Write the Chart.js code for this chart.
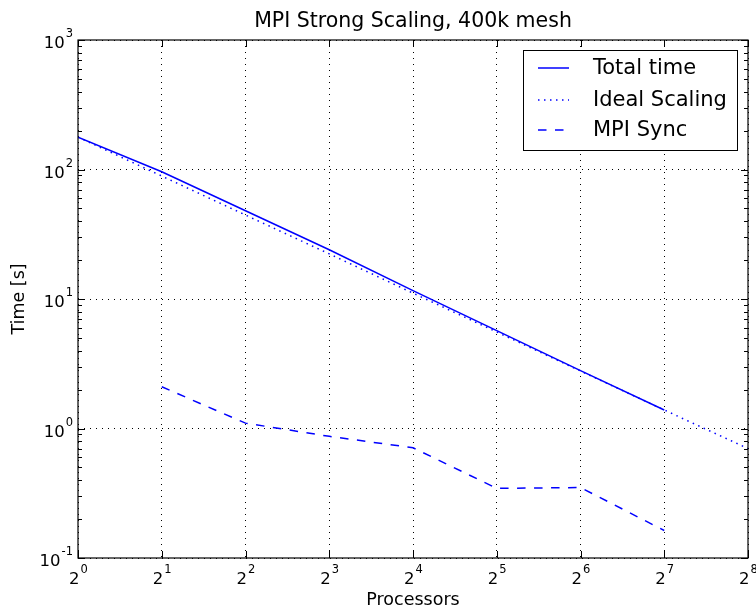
<!DOCTYPE html>
<html>
<head>
<meta charset="utf-8">
<script src="https://cdn.jsdelivr.net/npm/chart.js@4/dist/chart.umd.min.js"></script>
<style>
  html, body { margin: 0; padding: 0; background: #fff; }
  #wrap { width: 756px; height: 607px; }
</style>
</head>
<body>
<div id="wrap"><canvas id="grafico" width="756" height="607"></canvas></div>
<script>
// datos
const procesadores = [1, 2, 4, 8, 16, 32, 64, 128];
const tiempoTotal = [178, 96, 48, 24, 11.6, 5.7, 2.8, 1.39];
const procesadoresIdeal = [1, 2, 4, 8, 16, 32, 64, 128, 256];
const escalaIdeal = [178, 89, 44.5, 22.3, 11.1, 5.56, 2.78, 1.39, 0.70];
const procesadoresMpi = [2, 4, 8, 16, 32, 64, 128];
const mpiSync = [2.1, 1.1, 0.87, 0.71, 0.345, 0.35, 0.163];

const ticksX = [1, 2, 4, 8, 16, 32, 64, 128, 256];
const exponentesX = ["0", "1", "2", "3", "4", "5", "6", "7", "8"];
const ticksY = [0.1, 1, 10, 100, 1000];
const exponentesY = ["-1", "0", "1", "2", "3"];

const etiquetasLeyenda = ["Total time", "Ideal Scaling", "MPI Sync"];
const FUENTE = "'DejaVu Sans', sans-serif";
const AZUL = "#0000ff";

function armarPuntos(xs, ys) {
    return xs.map((x, i) => ({ x: x, y: ys[i] }));
}

// minor ticks del eje y (2..9 por decada)
function ticksMenoresY() {
    const menores = [];
    for (let d = 0; d < ticksY.length - 1; d++) {
        for (let k = 2; k <= 9; k++) menores.push(ticksY[d] * k);
    }
    return menores;
}

function textoPotencia(ctx, base, exp, x, y, alinear) {
    ctx.font = "16.5px " + FUENTE;
    let anchoBase = ctx.measureText(base).width;
    ctx.font = "11.5px " + FUENTE;
    let anchoExp = ctx.measureText(exp).width;
    let inicio = x;
    if (alinear === "center") inicio = x - (anchoBase + anchoExp) / 2;
    if (alinear === "right") inicio = x - (anchoBase + anchoExp + 1);
    ctx.textAlign = "left";
    ctx.textBaseline = "alphabetic";
    ctx.font = "16.5px " + FUENTE;
    ctx.fillText(base, inicio, y);
    ctx.font = "11.5px " + FUENTE;
    ctx.fillText(exp, inicio + anchoBase + 1, y - 11);
}

const pluginEjes = {
    id: "pluginEjes",
    afterDraw(chart) {
        const ctx = chart.ctx;
        const area = chart.chartArea;
        const sx = chart.scales.x;
        const sy = chart.scales.y;
        ctx.save();
        ctx.fillStyle = "#000";
        ctx.strokeStyle = "#000";

        // marco
        ctx.lineWidth = 1.2;
        ctx.setLineDash([]);
        ctx.strokeRect(area.left, area.top, area.right - area.left, area.bottom - area.top);

        // ticks mayores x (hacia adentro, abajo y arriba)
        ctx.lineWidth = 1;
        ticksX.forEach(v => {
            let px = Math.round(sx.getPixelForValue(v)) + 0.5;
            ctx.beginPath();
            ctx.moveTo(px, area.bottom); ctx.lineTo(px, area.bottom - 7);
            ctx.moveTo(px, area.top); ctx.lineTo(px, area.top + 7);
            ctx.stroke();
        });
        // ticks mayores y
        ticksY.forEach(v => {
            let py = Math.round(sy.getPixelForValue(v)) + 0.5;
            ctx.beginPath();
            ctx.moveTo(area.left, py); ctx.lineTo(area.left + 7, py);
            ctx.moveTo(area.right, py); ctx.lineTo(area.right - 7, py);
            ctx.stroke();
        });
        // ticks menores y
        ticksMenoresY().forEach(v => {
            let py = Math.round(sy.getPixelForValue(v)) + 0.5;
            ctx.beginPath();
            ctx.moveTo(area.left, py); ctx.lineTo(area.left + 4, py);
            ctx.moveTo(area.right, py); ctx.lineTo(area.right - 4, py);
            ctx.stroke();
        });

        // etiquetas
        ticksX.forEach((v, i) => {
            textoPotencia(ctx, "2", exponentesX[i], sx.getPixelForValue(v), area.bottom + 26, "center");
        });
        ticksY.forEach((v, i) => {
            textoPotencia(ctx, "10", exponentesY[i], area.left - 5, sy.getPixelForValue(v) + 8, "right");
        });

        // titulos
        ctx.font = "20.5px " + FUENTE;
        ctx.textAlign = "center";
        ctx.textBaseline = "alphabetic";
        ctx.fillText("MPI Strong Scaling, 400k mesh", (area.left + area.right) / 2, 27);
        ctx.font = "17.5px " + FUENTE;
        ctx.fillText("Processors", (area.left + area.right) / 2, 605);
        ctx.save();
        ctx.translate(24, (area.top + area.bottom) / 2);
        ctx.rotate(-Math.PI / 2);
        ctx.fillText("Time [s]", 0, 0);
        ctx.restore();

        // leyenda
        const caja = { x: 523, y: 50, w: 214, h: 100 };
        ctx.fillStyle = "#fff";
        ctx.fillRect(caja.x, caja.y, caja.w, caja.h);
        ctx.lineWidth = 1;
        ctx.strokeStyle = "#000";
        ctx.strokeRect(caja.x + 0.5, caja.y + 0.5, caja.w, caja.h);
        const filas = [68, 100, 130];
        chart.data.datasets.forEach((ds, i) => {
            ctx.strokeStyle = ds.borderColor;
            ctx.lineWidth = ds.borderWidth;
            ctx.setLineDash(ds.borderDash || []);
            ctx.beginPath();
            ctx.moveTo(538, filas[i]);
            ctx.lineTo(569, filas[i]);
            ctx.stroke();
            ctx.setLineDash([]);
            ctx.fillStyle = "#000";
            ctx.font = "21px " + FUENTE;
            ctx.textAlign = "left";
            ctx.textBaseline = "middle";
            ctx.fillText(etiquetasLeyenda[i], 593, filas[i] + 1);
        });
        ctx.restore();
    }
};

const config = {
    type: "line",
    data: {
        datasets: [
            {
                label: etiquetasLeyenda[0],
                data: armarPuntos(procesadores, tiempoTotal),
                borderColor: AZUL,
                borderWidth: 1.5,
                pointRadius: 0,
                fill: false
            },
            {
                label: etiquetasLeyenda[1],
                data: armarPuntos(procesadoresIdeal, escalaIdeal),
                borderColor: AZUL,
                borderWidth: 1.5,
                borderDash: [1.5, 4.5],
                pointRadius: 0,
                fill: false
            },
            {
                label: etiquetasLeyenda[2],
                data: armarPuntos(procesadoresMpi, mpiSync),
                borderColor: AZUL,
                borderWidth: 1.5,
                borderDash: [8.5, 8.5],
                pointRadius: 0,
                fill: false
            }
        ]
    },
    options: {
        responsive: false,
        animation: false,
        layout: { padding: { left: 78, top: 40, right: 8, bottom: 49 } },
        plugins: { legend: { display: false }, tooltip: { enabled: false }, title: { display: false } },
        scales: {
            x: {
                type: "logarithmic",
                min: 1,
                max: 256,
                afterBuildTicks: (eje) => { eje.ticks = ticksX.map(v => ({ value: v })); },
                ticks: { display: false },
                grid: { color: "#000", lineWidth: 1, drawTicks: false },
                border: { display: false, dash: [1, 5] }
            },
            y: {
                type: "logarithmic",
                min: 0.1,
                max: 1000,
                afterBuildTicks: (eje) => { eje.ticks = ticksY.map(v => ({ value: v })); },
                ticks: { display: false },
                grid: { color: "#000", lineWidth: 1, drawTicks: false },
                border: { display: false, dash: [1, 5] }
            }
        }
    },
    plugins: [pluginEjes]
};

new Chart(document.getElementById("grafico"), config);
</script>
</body>
</html>
